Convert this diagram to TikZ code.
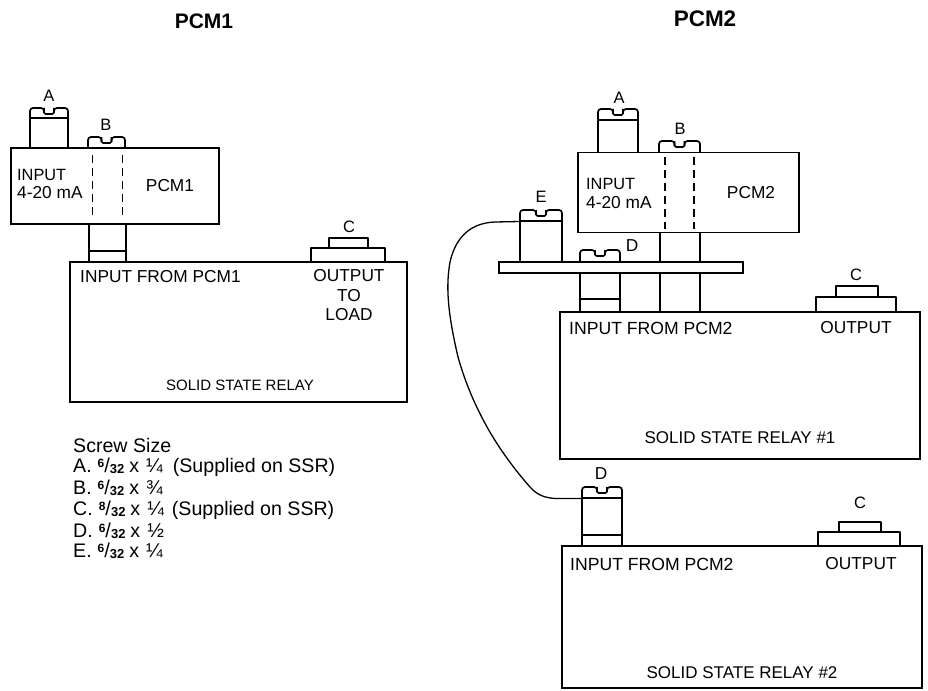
\documentclass[tikz,border=0pt]{standalone}
\usepackage{fontspec}
\setmainfont{Liberation Sans}
\newcommand{\hd}[1]{\fontsize{#1}{#1}\selectfont}
\newcommand{\scfrac}[2]{\raisebox{.5ex}{\hd{12}\bfseries #1}{\hd{20}/}\raisebox{-.1ex}{\hd{13}\bfseries #2}}
\newcommand{\sizeline}[3]{#1\hspace{6pt}\scfrac{#2}{32}\hspace{5pt}x\hspace{7pt}{\hd{20}#3}}
% head: left x, right x, top y, bottom y
\newcommand{\screwhead}[4]{%
  \pgfmathsetmacro{\cx}{(#1+#2)/2}%
  \draw[part,rounded corners=3pt] (#1,#4) -- (#1,#3) -- (\cx-5,#3) -- (\cx-5,#3+5);
  \draw[part,rounded corners=3pt] (#2,#4) -- (#2,#3) -- (\cx+5,#3) -- (\cx+5,#3+5);
  \draw[part,rounded corners=1.5pt] (\cx-5,#3) -- (\cx-5,#3+6) -- (\cx+5,#3+6) -- (\cx+5,#3);
}
\tikzset{
  part/.style={line width=1.7pt,black,line join=round},
  blockbox/.style={draw,line width=1.7pt,inner sep=0pt,outer sep=0pt,fill=white},
  labtext/.style={inner sep=0pt,font=\hd{17.3}},
  inptext/.style={inner sep=0pt,anchor=west,font=\hd{16.3}},
  lettertext/.style={inner sep=0pt,font=\hd{16.5}},
  smalltext/.style={inner sep=0pt,font=\hd{15}},
  relaytext/.style={inner sep=0pt,font=\hd{17}},
  listtext/.style={inner sep=0pt,anchor=west,font=\hd{19.6}},
  hiddenline/.style={line width=1.5pt,dash pattern=on 8pt off 5pt},
}
\begin{document}
\begin{tikzpicture}[x=1pt,y=-1pt]
\useasboundingbox (0,0) rectangle (928,690);
% headers
\node[inner sep=0pt,font=\hd{21}\bfseries] (h1) at (204,21) {PCM1};
\node[inner sep=0pt,font=\hd{22.5}\bfseries] (h2) at (705,19) {PCM2};

% ---------- PCM1 side ----------
\draw[part] (30,148) -- (30,118) -- (68,118) -- (68,148);
\screwhead{30}{68}{108}{118}
\node[lettertext] (a1) at (49,96) {A};
\screwhead{88}{125}{137}{148}
\node[lettertext] (b1) at (106,125) {B};
\draw[part] (89,224) -- (89,262) (126,224) -- (126,262) (89,251) -- (126,251);
\node[blockbox,minimum width=208pt,minimum height=76pt] (pcm1) at (115,186) {};
\draw[hiddenline] (92.5,155) -- (92.5,217) (122.5,155) -- (122.5,217);
\node[inptext] (i1) at (17,175) {INPUT};
\node[labtext,anchor=west] (m1) at (17,193) {4-20 mA};
\node[labtext] (p1) at (170,186) {PCM1};
\node[blockbox,minimum width=337pt,minimum height=140pt] (ssr) at (238.5,332) {};
\node[labtext,anchor=west] (if1) at (80,277) {INPUT FROM PCM1};
\draw[part] (311,261) -- (311,248) -- (385,248) -- (385,261);
\draw[part] (329,248) -- (329,238) -- (368,238) -- (368,248);
\node[lettertext] (c1) at (349,227) {C};
\node[labtext] (o1) at (349,276) {OUTPUT};
\node[labtext] (t1) at (349,296) {TO};
\node[labtext] (l1) at (349,315) {LOAD};
\node[smalltext] (s1) at (240,385) {SOLID STATE RELAY};

% screw list
\node[listtext] (l0) at (73,445) {Screw Size};
\node[listtext] (la) at (73,467) {\sizeline{A.}{6}{¼}\hspace{10pt}(Supplied on SSR)};
\node[listtext] (lb) at (73,488) {\sizeline{B.}{6}{¾}};
\node[listtext] (lc) at (73,510) {\sizeline{C.}{8}{¼}\hspace{8pt}(Supplied on SSR)};
\node[listtext] (ld) at (73,531) {\sizeline{D.}{6}{½}};
\node[listtext] (le) at (73,551) {\sizeline{E.}{6}{¼}};

% ---------- PCM2 side ----------
\draw[part] (598,153) -- (598,120) -- (638,120) -- (638,153);
\screwhead{598}{638}{109}{120}
\node[lettertext] (a2) at (619,98) {A};
\screwhead{659}{700}{141}{153}
\node[lettertext] (b2) at (680,129) {B};
\node[blockbox,minimum width=221pt,minimum height=80pt] (pcm2) at (688.5,192.5) {};
\draw[hiddenline] (665,157) -- (665,229) (694,157) -- (694,229);
\node[inptext] (i2) at (586,184) {INPUT};
\node[labtext,anchor=west] (m2) at (586,203) {4-20 mA};
\node[labtext] (p2) at (751,193) {PCM2};
% shafts
\draw[part] (660,233) -- (660,312) (700,233) -- (700,312);
\draw[part] (580,262) -- (580,312) (620,262) -- (620,312) (580,299) -- (620,299);
% screw E
\draw[part] (520,262) -- (520,221) -- (562,221) -- (562,262);
\screwhead{520}{562}{210}{221}
\coordinate (eline) at (520,221.5);
\node[lettertext] (e2) at (541,197) {E};
% plate
\node[blockbox,minimum width=244pt,minimum height=11pt] (plate) at (621,267.5) {};
% screw D
\screwhead{580}{620}{250}{262}
\node[labtext] (d2) at (632,246) {D};
% relay 1
\node[blockbox,minimum width=360pt,minimum height=147pt] (ssr1) at (740,385.5) {};
\node[labtext,anchor=west,font=\hd{17.6}] (if2) at (569,328) {INPUT FROM PCM2};
\draw[part] (816,311) -- (816,297) -- (896,297) -- (896,311);
\draw[part] (836,297) -- (836,286) -- (878,286) -- (878,297);
\node[lettertext] (c2) at (856,275) {C};
\node[labtext] (o2) at (856,328) {OUTPUT};
\node[relaytext] (s2) at (740,438) {SOLID STATE RELAY \#1};
% relay 2 screw
\draw[part] (582,546) -- (582,498) -- (622,498) -- (622,546) (582,535) -- (622,535);
\screwhead{582}{622}{487}{498}
\coordinate (dline) at (582,498.5);
\node[labtext] (d3) at (601,474) {D};
\node[blockbox,minimum width=360pt,minimum height=142pt] (ssr2) at (742,617) {};
\node[labtext,anchor=west,font=\hd{17.6}] (if3) at (570,564) {INPUT FROM PCM2};
\draw[part] (818,545) -- (818,532) -- (900,532) -- (900,545);
\draw[part] (839,532) -- (839,522) -- (881,522) -- (881,532);
\node[lettertext] (c3) at (860,503) {C};
\node[labtext] (o3) at (861,564) {OUTPUT};
\node[relaytext] (s3) at (742,673) {SOLID STATE RELAY \#2};
% cable
\draw[line width=1.3pt] (eline) -- (495,222)
  .. controls (468,223) and (455,240) .. (450,262)
  .. controls (446,285) and (447,310) .. (458,357)
  .. controls (466,385) and (475,405) .. (487,427)
  .. controls (500,450) and (515,470) .. (530,487)
  .. controls (537,495) and (545,498) .. (556,498.5) -- (dline);
\end{tikzpicture}
\end{document}
